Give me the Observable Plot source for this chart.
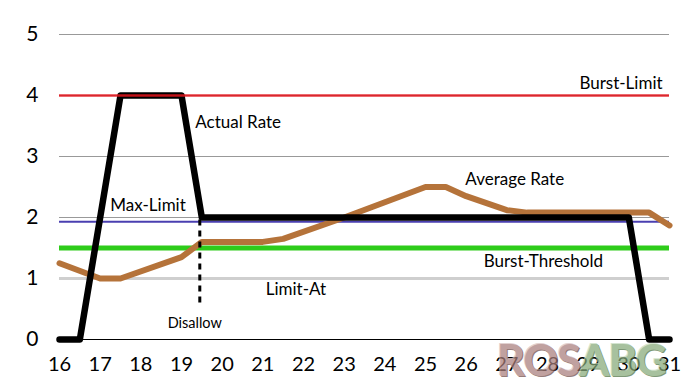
<!DOCTYPE html>
<html><head><meta charset="utf-8">
<script src="https://cdn.jsdelivr.net/npm/d3@7"></script>
<script src="https://cdn.jsdelivr.net/npm/@observablehq/plot@0.6"></script>
<style>
body{margin:0;background:#fff;}
#wrap{position:relative;width:687px;height:388px;overflow:hidden;}
#wm{position:absolute;left:497px;top:335px;font-family:Lato;font-weight:900;font-size:43px;line-height:50px;letter-spacing:-1px;opacity:0.72;}
#wm .a{color:#a97e7c;text-shadow:1px 1px 0 #6e4a48,-1px -1px 0 #d8c0bf;}
#wm .b{color:#86aa7a;text-shadow:1px 1px 0 #4f7244,-1px -1px 0 #c4dbbd;}
</style></head><body>
<div id="wrap"><div id="chart"></div><div id="wm"><span class="a">ROS</span><span class="b">ABG</span></div></div>
<script>
// Data
const xTicks = [16,17,18,19,20,21,22,23,24,25,26,27,28,29,30,31];
const yTicks = [0,1,2,3,4,5];
const gridValues = [1,2,3,4,5];
const actualX = [16,16.5,17.5,19,19.5,30,30.5,31];
const actualY = [0,0,4,4,2,2,0,0];
const avgX = [16,17,17.5,19,19.5,21,21.5,23,24,25,25.5,26,27,27.5,30.5,31];
const avgY = [1.25,1,1,1.35,1.6,1.6,1.65,2,2.25,2.5,2.5,2.35,2.12,2.08,2.08,1.87];
const burstLimit = 4;
const maxLimit = 1.93;
const burstThreshold = 1.5;
const limitAt = 1;
const disallowX = 19.45;
const disallowY = [0.6, 2];
const labelText = ["Burst-Limit","Actual Rate","Max-Limit","Average Rate","Burst-Threshold","Limit-At"];
const labelX = [30.83,19.34,17.25,25.98,26.43,21.07];
const labelY = [4.2,3.56,2.2,2.62,1.28,0.82];
const labelAnchor = ["end","start","start","start","start","start"];

const actual = actualX.map((x,i)=>({x, y: actualY[i]}));
const avg = avgX.map((x,i)=>({x, y: avgY[i]}));
const labels = labelText.map((t,i)=>({t, x: labelX[i], y: labelY[i], a: labelAnchor[i]}));

const chart = Plot.plot({
  width: 687, height: 388,
  marginLeft: 59, marginRight: 18, marginTop: 34, marginBottom: 49,
  style: {fontFamily: "Lato", background: "#fff"},
  x: {domain: [16,31], label: null},
  y: {domain: [0,5], label: null},
  marks: [
    Plot.ruleY(gridValues, {x1: 16, x2: 31, stroke: "#999", strokeWidth: 1}),
    Plot.ruleY([limitAt], {x1: 16, x2: 31, stroke: "#cfcfcf", strokeWidth: 3}),
    Plot.ruleY([burstThreshold], {x1: 16, x2: 31, stroke: "#2ecc1a", strokeWidth: 5}),
    Plot.ruleY([maxLimit], {x1: 16, x2: 31, stroke: "#4a3fb0", strokeWidth: 2}),
    Plot.ruleY([0], {x1: 16, x2: 31, stroke: "#000", strokeWidth: 1}),
    Plot.line(avg, {x: "x", y: "y", stroke: "#b5733a", strokeWidth: 6, strokeLinejoin: "round"}),
    Plot.line(actual, {x: "x", y: "y", stroke: "#000", strokeWidth: 6.5, strokeLinejoin: "round"}),
    Plot.ruleY([burstLimit], {x1: 16, x2: 31, stroke: "#e3141b", strokeWidth: 2.5, strokeOpacity: 0.85}),
    Plot.ruleX([disallowX], {y1: disallowY[0], y2: disallowY[1], stroke: "#000", strokeWidth: 3, strokeDasharray: "6,5"}),
    Plot.text(labels.filter(d => d.a === "end"), {x: "x", y: "y", text: "t", textAnchor: "end", fontSize: 17, fill: "#000"}),
    Plot.text(labels.filter(d => d.a === "start"), {x: "x", y: "y", text: "t", textAnchor: "start", fontSize: 17, fill: "#000"}),
    Plot.text(["Disallow"], {x: 18.66, y: 0.26, textAnchor: "start", fontSize: 14.5, fill: "#000"}),
    Plot.axisY(yTicks, {tickSize: 0, tickPadding: 21, fontSize: 21, fill: "#000", tickFormat: d => String(d), label: null}),
    Plot.axisX(xTicks, {tickSize: 0, tickPadding: 17, fontSize: 20, fill: "#000", tickFormat: d => String(d), label: null})
  ]
});
document.getElementById("chart").appendChild(chart);
</script>
</body></html>
